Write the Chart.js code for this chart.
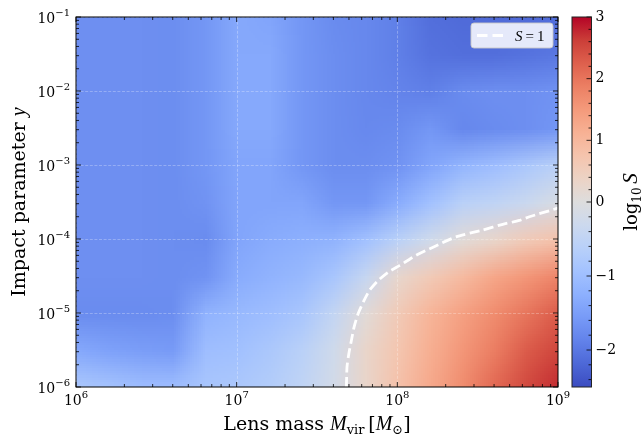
<!DOCTYPE html>
<html>
<head>
<meta charset="utf-8">
<script src="https://cdn.jsdelivr.net/npm/chart.js@4.4.1/dist/chart.umd.min.js"></script>
<style>
  html, body { margin: 0; padding: 0; background: #fff; }
  #wrap { width: 643px; height: 435px; }
</style>
</head>
<body>
<div id="wrap"><canvas id="lensChart" width="643" height="435"></canvas></div>
<script>
// grid of the map: log10 of lens mass (columns) and of impact parameter (rows, top to bottom)
const massExp = [6.0, 6.2, 6.4, 6.6, 6.8, 7.0, 7.2, 7.4, 7.6, 7.8, 8.0, 8.2, 8.4, 8.6, 8.8, 9.0];
const impactExp = [-1, -1.5, -2, -2.5, -3, -3.5, -4, -4.5, -5, -5.5, -6];

// log10 S, one row per impact parameter
const logS_m10 = [-1.7, -1.7, -1.7, -1.72, -1.6, -1.35, -1.4, -1.6, -1.75, -1.8, -1.9, -2.1, -2.15, -2.15, -2.15, -2.1];
const logS_m15 = [-1.7, -1.7, -1.7, -1.72, -1.6, -1.35, -1.35, -1.6, -1.72, -1.8, -1.9, -2.05, -2.1, -2.1, -2.05, -2.0];
const logS_m20 = [-1.7, -1.7, -1.7, -1.72, -1.6, -1.35, -1.35, -1.6, -1.72, -1.8, -1.85, -1.9, -1.75, -1.7, -1.7, -1.65];
const logS_m25 = [-1.7, -1.7, -1.7, -1.72, -1.6, -1.35, -1.35, -1.6, -1.72, -1.78, -1.75, -1.6, -1.8, -1.75, -1.7, -1.6];
const logS_m30 = [-1.7, -1.7, -1.7, -1.72, -1.6, -1.4, -1.4, -1.6, -1.72, -1.72, -1.65, -1.4, -1.15, -1.0, -0.8, -0.6];
const logS_m35 = [-1.7, -1.7, -1.7, -1.72, -1.65, -1.4, -1.4, -1.4, -1.6, -1.6, -1.3, -0.95, -0.6, -0.5, -0.35, -0.1];
const logS_m40 = [-1.7, -1.7, -1.7, -1.72, -1.75, -1.4, -1.3, -1.25, -1.2, -0.95, -0.6, -0.25, 0.1, 0.3, 0.6, 0.8];
const logS_m45 = [-1.7, -1.7, -1.7, -1.72, -1.65, -1.3, -1.2, -1.1, -0.85, -0.4, 0.25, 0.6, 0.95, 1.3, 1.55, 1.8];
const logS_m50 = [-1.75, -1.75, -1.75, -1.72, -1.2, -1.1, -1.0, -0.85, -0.45, 0.1, 0.6, 1.05, 1.4, 1.7, 2.0, 2.3];
const logS_m55 = [-1.35, -1.45, -1.5, -1.55, -1.0, -0.95, -0.8, -0.6, -0.25, 0.3, 0.7, 1.15, 1.55, 1.9, 2.3, 2.55];
const logS_m60 = [-0.8, -0.9, -1.0, -1.0, -0.85, -0.8, -0.7, -0.5, -0.2, 0.3, 0.8, 1.25, 1.7, 2.15, 2.5, 2.75];
const logSRows = [logS_m10, logS_m15, logS_m20, logS_m25, logS_m30, logS_m35, logS_m40, logS_m45, logS_m50, logS_m55, logS_m60];

// S = 1 contour
const contourMass = [4.82e7, 4.86e7, 4.99e7, 5.18e7, 5.38e7, 5.70e7, 6.21e7, 6.73e7, 7.59e7, 8.75e7, 1.03e8, 1.31e8, 1.67e8, 2.32e8, 3.40e8, 4.53e8, 5.75e8, 6.64e8, 9.73e8, 1e9];
const contourImpact = [1e-6, 1.86e-6, 2.82e-6, 4.27e-6, 6.46e-6, 9.77e-6, 1.48e-5, 2.04e-5, 2.75e-5, 3.55e-5, 4.37e-5, 6.03e-5, 7.76e-5, 1.07e-4, 1.32e-4, 1.58e-4, 1.78e-4, 2.0e-4, 2.57e-4, 2.65e-4];

// axis decades and colour bar (two-slope, centred on 0)
const massDecades = [6, 7, 8, 9];
const impactDecades = [-6, -5, -4, -3, -2, -1];
const sMin = -2.5;
const sMax = 3;
const cbTicks = [-2, -1, 0, 1, 2, 3];

const coolwarm = [
  [59, 76, 192], [77, 104, 215], [98, 130, 234], [119, 154, 247], [141, 176, 254],
  [163, 194, 255], [184, 208, 249], [204, 217, 238], [221, 221, 221], [236, 211, 197],
  [245, 196, 173], [247, 177, 148], [244, 154, 123], [236, 127, 99], [222, 96, 77],
  [203, 62, 56], [180, 4, 38]
];

function cmap(t) {
  t = Math.min(1, Math.max(0, t));
  const f = t * (coolwarm.length - 1);
  const i = Math.min(coolwarm.length - 2, Math.floor(f));
  const r = f - i;
  const a = coolwarm[i], b = coolwarm[i + 1];
  return [0, 1, 2].map(k => Math.round(a[k] + (b[k] - a[k]) * r));
}

function norm(v) {
  if (v < 0) return 0.5 * (1 - Math.max(v, sMin) / sMin);
  return 0.5 + 0.5 * Math.min(v, sMax) / sMax;
}

const SERIF = '"DejaVu Serif", serif';
const MATH = '"Liberation Serif", "DejaVu Serif", serif';
const minus = n => (n < 0 ? '\u2212' + Math.abs(n) : String(n));

// draw a row of [text, font, dy] pieces starting at x
function pieces(ctx, parts, x, y) {
  for (const [txt, font, dy] of parts) {
    ctx.font = font;
    ctx.fillText(txt, x, y + (dy || 0));
    x += ctx.measureText(txt).width;
  }
}
function piecesWidth(ctx, parts) {
  let w = 0;
  for (const [txt, font] of parts) { ctx.font = font; w += ctx.measureText(txt).width; }
  return w;
}
function powerParts(e) {
  return [['10', '14px ' + SERIF], [minus(e), '10px ' + SERIF, -7]];
}

const heatmapPlugin = {
  id: 'heatmap',
  beforeDatasetsDraw(chart) {
    const { ctx, chartArea: a, scales: { x, y } } = chart;
    const nx = massExp.length, ny = impactExp.length;
    const off = document.createElement('canvas');
    off.width = nx;
    off.height = ny;
    const octx = off.getContext('2d');
    const img = octx.createImageData(nx, ny);
    for (let j = 0; j < ny; j++) {
      for (let i = 0; i < nx; i++) {
        const c = cmap(norm(logSRows[j][i]));
        const k = 4 * (j * nx + i);
        img.data[k] = c[0]; img.data[k + 1] = c[1]; img.data[k + 2] = c[2]; img.data[k + 3] = 255;
      }
    }
    octx.putImageData(img, 0, 0);
    const dx = massExp[1] - massExp[0];
    const dy = impactExp[0] - impactExp[1];
    const left = x.getPixelForValue(Math.pow(10, massExp[0] - dx / 2));
    const right = x.getPixelForValue(Math.pow(10, massExp[nx - 1] + dx / 2));
    const top = y.getPixelForValue(Math.pow(10, impactExp[0] + dy / 2));
    const bottom = y.getPixelForValue(Math.pow(10, impactExp[ny - 1] - dy / 2));

    ctx.save();
    ctx.beginPath();
    ctx.rect(a.left, a.top, a.right - a.left, a.bottom - a.top);
    ctx.clip();
    ctx.imageSmoothingEnabled = true;
    ctx.imageSmoothingQuality = 'low';
    ctx.drawImage(off, left, top, right - left, bottom - top);

    // dashed grid at the decades
    ctx.strokeStyle = 'rgba(255,255,255,0.35)';
    ctx.lineWidth = 0.8;
    ctx.setLineDash([3, 1.6]);
    massDecades.forEach(e => {
      const px = Math.round(x.getPixelForValue(Math.pow(10, e))) + 0.5;
      ctx.beginPath(); ctx.moveTo(px, a.top); ctx.lineTo(px, a.bottom); ctx.stroke();
    });
    impactDecades.forEach(e => {
      const py = Math.round(y.getPixelForValue(Math.pow(10, e))) + 0.5;
      ctx.beginPath(); ctx.moveTo(a.left, py); ctx.lineTo(a.right, py); ctx.stroke();
    });
    ctx.restore();
  },
  afterDraw(chart) {
    const { ctx, chartArea: a, scales: { x, y } } = chart;
    ctx.save();
    ctx.strokeStyle = '#000';
    ctx.lineWidth = 0.8;
    // inward ticks on all four sides
    for (let e = 6; e <= 9; e++) {
      for (let k = 1; k <= 9; k++) {
        const v = k * Math.pow(10, e);
        if (v > 1e9 * 1.0001) break;
        const px = x.getPixelForValue(v);
        const len = k === 1 ? 5 : 3;
        ctx.beginPath();
        ctx.moveTo(px, a.bottom); ctx.lineTo(px, a.bottom - len);
        ctx.moveTo(px, a.top); ctx.lineTo(px, a.top + len);
        ctx.stroke();
      }
    }
    for (let e = -6; e <= -1; e++) {
      for (let k = 1; k <= 9; k++) {
        const v = k * Math.pow(10, e);
        if (v > 0.10001) break;
        const py = y.getPixelForValue(v);
        const len = k === 1 ? 5 : 3;
        ctx.beginPath();
        ctx.moveTo(a.left, py); ctx.lineTo(a.left + len, py);
        ctx.moveTo(a.right, py); ctx.lineTo(a.right - len, py);
        ctx.stroke();
      }
    }
    ctx.lineWidth = 1;
    ctx.strokeRect(a.left, a.top, a.right - a.left, a.bottom - a.top);

    // decade labels
    ctx.fillStyle = '#000';
    ctx.textAlign = 'left';
    ctx.textBaseline = 'alphabetic';
    massDecades.forEach(e => {
      const p = powerParts(e);
      const px = x.getPixelForValue(Math.pow(10, e));
      pieces(ctx, p, px - piecesWidth(ctx, p) / 2, a.bottom + 18);
    });
    impactDecades.forEach(e => {
      const p = powerParts(e);
      const py = y.getPixelForValue(Math.pow(10, e));
      pieces(ctx, p, a.left - 6 - piecesWidth(ctx, p), py + 6);
    });

    // colour bar
    const cbL = a.right + 14, cbW = 19.5, cbT = a.top, cbB = a.bottom;
    const grad = ctx.createLinearGradient(0, cbB, 0, cbT);
    coolwarm.forEach((c, i) => grad.addColorStop(i / (coolwarm.length - 1), `rgb(${c[0]},${c[1]},${c[2]})`));
    ctx.fillStyle = grad;
    ctx.fillRect(cbL, cbT, cbW, cbB - cbT);
    const cbY = v => cbB - norm(v) * (cbB - cbT);
    ctx.lineWidth = 0.8;
    for (let m = -12; m <= 15; m++) {
      const v = m / 5;
      if (v < sMin || v > sMax) continue;
      const major = m % 5 === 0;
      const py = cbY(v);
      ctx.beginPath();
      ctx.moveTo(cbL + cbW, py); ctx.lineTo(cbL + cbW - (major ? 5 : 3), py);
      ctx.stroke();
    }
    ctx.lineWidth = 1;
    ctx.strokeStyle = '#222';
    ctx.strokeRect(cbL, cbT, cbW, cbB - cbT);
    ctx.fillStyle = '#000';
    ctx.font = '14px ' + SERIF;
    ctx.textBaseline = 'middle';
    cbTicks.forEach(v => ctx.fillText(minus(v), cbL + cbW + 4, cbY(v)));

    // axis titles
    ctx.textBaseline = 'alphabetic';
    const big = '19px ' + SERIF, it = 'italic 20px ' + MATH, sub = '13px ' + SERIF;
    const xParts = [['Lens mass ', big], ['M', it], ['vir', sub, 4], ['\u2009[', big], ['M', it], ['\u2299', sub, 4], [']', big]];
    pieces(ctx, xParts, (a.left + a.right) / 2 - piecesWidth(ctx, xParts) / 2, 430);

    const yParts = [['Impact parameter ', big], ['y', it]];
    ctx.save();
    ctx.translate(25, (a.top + a.bottom) / 2);
    ctx.rotate(-Math.PI / 2);
    pieces(ctx, yParts, -piecesWidth(ctx, yParts) / 2, 0);
    ctx.restore();

    const cParts = [['log', '18px ' + SERIF], ['10', '12px ' + SERIF, 4], ['\u2009', big], ['S', 'italic 21px ' + MATH]];
    ctx.save();
    ctx.translate(637, (a.top + a.bottom) / 2);
    ctx.rotate(-Math.PI / 2);
    pieces(ctx, cParts, -piecesWidth(ctx, cParts) / 2, 0);
    ctx.restore();

    // legend
    const lw = 82, lh = 25, lx = a.right - 5 - lw, ly = a.top + 6;
    ctx.beginPath();
    ctx.roundRect(lx, ly, lw, lh, 3);
    ctx.fillStyle = 'rgba(255,255,255,0.85)';
    ctx.fill();
    ctx.strokeStyle = 'rgba(200,200,200,0.9)';
    ctx.lineWidth = 1;
    ctx.stroke();
    ctx.strokeStyle = '#fff';
    ctx.lineWidth = 2.8;
    ctx.setLineDash([10.5, 5]);
    ctx.beginPath();
    ctx.moveTo(lx + 6, ly + lh / 2);
    ctx.lineTo(lx + 34, ly + lh / 2);
    ctx.stroke();
    ctx.setLineDash([]);
    ctx.fillStyle = '#000';
    pieces(ctx, [['S', 'italic 15px ' + MATH], ['\u2009=\u2009', '15px ' + MATH], ['1', '15px ' + MATH]], lx + 44, ly + lh / 2 + 5);
    ctx.restore();
  }
};

new Chart(document.getElementById('lensChart'), {
  type: 'scatter',
  data: {
    datasets: [{
      label: 'S = 1',
      data: contourMass.map((m, i) => ({ x: m, y: contourImpact[i] })),
      showLine: true,
      borderColor: '#ffffff',
      borderWidth: 2.8,
      borderDash: [10, 4.5],
      pointRadius: 0,
      tension: 0.2,
      fill: false
    }]
  },
  options: {
    responsive: false,
    animation: false,
    devicePixelRatio: 1,
    layout: { padding: { left: 0, right: 85, top: 17, bottom: 0 } },
    plugins: {
      legend: { display: false },
      tooltip: { enabled: false }
    },
    scales: {
      x: {
        type: 'logarithmic',
        min: 1e6,
        max: 1e9,
        grid: { display: false },
        border: { display: false },
        ticks: { display: false },
        afterFit: s => { s.height = 48; }
      },
      y: {
        type: 'logarithmic',
        min: 1e-6,
        max: 1e-1,
        grid: { display: false },
        border: { display: false },
        ticks: { display: false },
        afterFit: s => { s.width = 76; }
      }
    }
  },
  plugins: [heatmapPlugin]
});
</script>
</body>
</html>
